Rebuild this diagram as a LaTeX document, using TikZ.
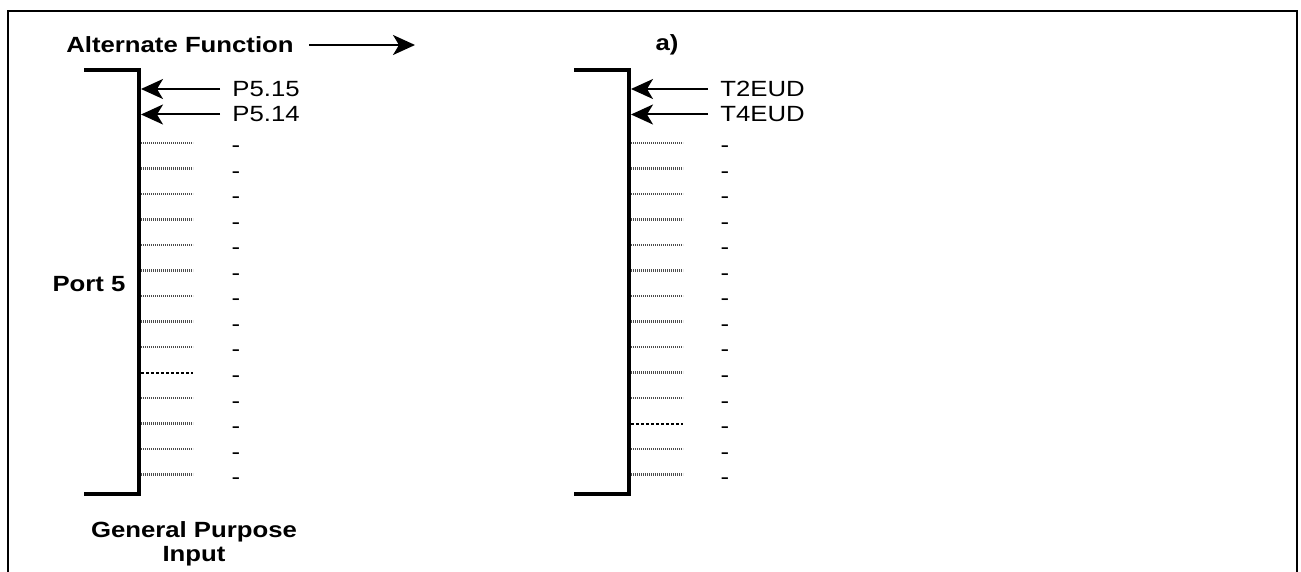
\documentclass[tikz,border=0pt]{standalone}
\usepackage{fontspec}
\setmainfont{Liberation Sans}[FakeStretch=1.17]
\usetikzlibrary{arrows.meta}

\begin{document}
\begin{tikzpicture}[x=0.5pt, y=-0.5pt,
            font=\fontsize{11pt}{12pt}\selectfont,
            frame/.style={draw=black, line width=1pt},
            bracket/.style={draw=black, line width=2pt},
            arr/.style={-{Stealth[length=11pt, width=10pt, inset=3pt]}, black, line width=1pt},
            hdr/.style={font=\fontsize{11pt}{12pt}\selectfont\bfseries, inner sep=0pt},
            lbl/.style={anchor=west, inner xsep=6pt, inner ysep=0pt},
            dashmark/.style={anchor=base, inner sep=0pt},
            dots/.style={draw=black!70, line width=1.4pt, dash pattern=on 0.7pt off 0.3pt},
            dashline/.style={draw=black, line width=1pt, dash pattern=on 1.5pt off 1pt}
          ]
            \useasboundingbox (0,0) rectangle (1301,572);
            \draw[frame] (8,572) -- (8,11) -- (1297,11) -- (1297,572);

            % headings
            \node[hdr, inner xsep=7.5pt] (alt) at (180,45) {Alternate Function};
            \coordinate (altend) at (415,45);
            \draw[arr] (alt) -- (altend);
            \node[hdr] (case) at (667,45) {a)};
            \node[hdr] (port) at (89,284) {Port 5};
            \node[hdr, align=center] (gpi) at (194,544) {General Purpose\\Input};

            % left bracket
            \draw[bracket] (84,70) -- (139,70) -- (139,494) -- (84,494);
            \coordinate (ledge) at (141,70);
            \node[lbl] (p515) at (220,89) {P5.15};
            \node[lbl] (p514) at (220,114.5) {P5.14};
            \draw[arr] (p515) -- (p515 -| ledge);
            \draw[arr] (p514) -- (p514 -| ledge);
            \foreach \i in {0,...,13}{
              \pgfmathsetmacro\rowy{143+25.5*\i}
              \ifnum\i=9 \def\ls{dashline}\else\def\ls{dots}\fi
              \coordinate (lrow\i) at (193,\rowy);
              \draw[\ls] (lrow\i -| ledge) -- (lrow\i);
              \node[dashmark] (ldash\i) at (236,{\rowy+10}) {-};
            }

            % right bracket
            \draw[bracket] (574,70) -- (629,70) -- (629,494) -- (574,494);
            \coordinate (redge) at (631,70);
            \node[lbl] (t2eud) at (708,89) {T2EUD};
            \node[lbl] (t4eud) at (708,114.5) {T4EUD};
            \draw[arr] (t2eud) -- (t2eud -| redge);
            \draw[arr] (t4eud) -- (t4eud -| redge);
            \foreach \i in {0,...,13}{
              \pgfmathsetmacro\rowy{143+25.5*\i}
              \ifnum\i=11 \def\ls{dashline}\else\def\ls{dots}\fi
              \coordinate (rrow\i) at (683,\rowy);
              \draw[\ls] (rrow\i -| redge) -- (rrow\i);
              \node[dashmark] (rdash\i) at (725,{\rowy+10}) {-};
            }
          \end{tikzpicture}
\end{document}
